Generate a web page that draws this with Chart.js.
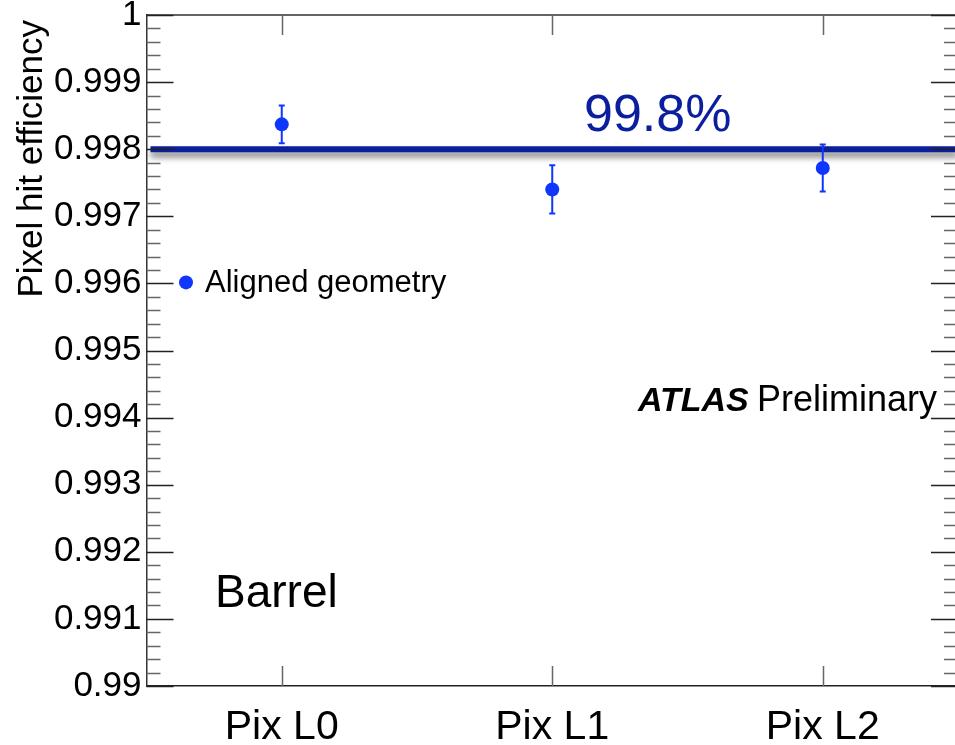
<!DOCTYPE html>
<html>
<head>
<meta charset="utf-8">
<script src="https://cdn.jsdelivr.net/npm/chart.js@4.4.1/dist/chart.umd.min.js"></script>
<style>
  html, body { margin: 0; padding: 0; background: #fff; overflow: hidden; }
  #wrap { width: 965px; height: 745px; }
</style>
</head>
<body>
<div id="wrap"><canvas id="grafico" width="965" height="745"></canvas></div>
<script>
// datos
const capas = ['Pix L0', 'Pix L1', 'Pix L2'];
const eficiencia = [0.99837, 0.99740, 0.99772];
const errores = [0.00028, 0.00036, 0.00035];
const promedio = 0.998;
const ticksY = [0.99, 0.991, 0.992, 0.993, 0.994, 0.995, 0.996, 0.997, 0.998, 0.999, 1];
const etiquetasY = ['0.99', '0.991', '0.992', '0.993', '0.994', '0.995', '0.996', '0.997', '0.998', '0.999', '1'];

const AZUL = '#0f36fb';
const AZUL_OSC = '#0b1e9e';
const FUENTE = '"Liberation Sans", Arial, sans-serif';

const pluginROOT = {
    id: 'estiloRoot',
    afterDatasetsDraw(chart) {
        const { ctx, chartArea: a, scales: { x, y } } = chart;
        ctx.save();

        // linea del promedio con sombra
        const yp = y.getPixelForValue(promedio);
        ctx.save();
        ctx.shadowColor = 'rgba(0,0,0,0.5)';
        ctx.shadowBlur = 6;
        ctx.shadowOffsetY = 5;
        ctx.strokeStyle = AZUL_OSC;
        ctx.lineWidth = 6;
        ctx.beginPath(); ctx.moveTo(a.left + 4, yp); ctx.lineTo(a.right, yp); ctx.stroke();
        ctx.restore();

        // barras de error
        ctx.strokeStyle = AZUL; ctx.lineWidth = 2;
        eficiencia.forEach((v, i) => {
            const px = x.getPixelForValue(i);
            const y1 = y.getPixelForValue(v + errores[i]);
            const y2 = y.getPixelForValue(v - errores[i]);
            ctx.beginPath();
            ctx.moveTo(px, y1); ctx.lineTo(px, y2);
            ctx.moveTo(px - 3, y1); ctx.lineTo(px + 3, y1);
            ctx.moveTo(px - 3, y2); ctx.lineTo(px + 3, y2);
            ctx.stroke();
        });
        ctx.restore();
    },
    afterDraw(chart) {
        const { ctx, chartArea: a, scales: { x, y } } = chart;
        ctx.save();
        // marco superior y derecho
        ctx.strokeStyle = '#333'; ctx.lineWidth = 1.5;
        ctx.beginPath();
        ctx.moveTo(a.left, a.top); ctx.lineTo(a.right, a.top); ctx.lineTo(a.right, a.bottom);
        ctx.stroke();

        // ticks menores y mayores en Y (ambos lados)
        ctx.lineWidth = 1.5;
        for (let i = 0; i <= 50; i++) {
            const v = 0.99 + i * 0.0002;
            const py = Math.round(y.getPixelForValue(v)) + 0.5;
            const largo = i % 5 === 0 ? 27 : 14;
            ctx.strokeStyle = i % 5 === 0 ? '#222' : '#666';
            ctx.beginPath();
            ctx.moveTo(a.left, py); ctx.lineTo(a.left + largo, py);
            ctx.moveTo(a.right, py); ctx.lineTo(a.right - largo, py);
            ctx.stroke();
        }
        // ticks en X
        ctx.strokeStyle = '#666';
        capas.forEach((c, i) => {
            const px = Math.round(x.getPixelForValue(i)) + 0.5;
            ctx.beginPath();
            ctx.moveTo(px, a.bottom); ctx.lineTo(px, a.bottom - 20);
            ctx.moveTo(px, a.top); ctx.lineTo(px, a.top + 20);
            ctx.stroke();
        });

        // titulo eje Y
        ctx.save();
        ctx.translate(42, 20);
        ctx.rotate(-Math.PI / 2);
        ctx.fillStyle = '#000';
        ctx.font = '35px ' + FUENTE;
        ctx.textAlign = 'right';
        ctx.textBaseline = 'alphabetic';
        ctx.fillText('Pixel hit efficiency', 0, 0);
        ctx.restore();

        // leyenda
        ctx.fillStyle = AZUL;
        ctx.beginPath(); ctx.arc(186, y.getPixelForValue(0.996) - 1, 7, 0, Math.PI * 2); ctx.fill();
        ctx.fillStyle = '#000';
        ctx.font = '31px ' + FUENTE;
        ctx.textAlign = 'left';
        ctx.fillText('Aligned geometry', 205, 292);

        // textos
        ctx.fillStyle = AZUL_OSC;
        ctx.font = '52px ' + FUENTE;
        ctx.fillText('99.8%', 584, 131);

        ctx.fillStyle = '#000';
        ctx.font = 'italic bold 34px ' + FUENTE;
        ctx.fillText('ATLAS', 638, 411);
        ctx.font = '36px ' + FUENTE;
        ctx.fillText('Preliminary', 757, 411);

        ctx.font = '46px ' + FUENTE;
        ctx.fillText('Barrel', 215, 607);
        ctx.restore();
    }
};

new Chart(document.getElementById('grafico'), {
    type: 'line',
    data: {
        labels: capas,
        datasets: [{
            data: eficiencia,
            showLine: false,
            pointRadius: 7,
            pointBackgroundColor: AZUL,
            pointBorderColor: AZUL,
            pointBorderWidth: 0
        }]
    },
    options: {
        responsive: false,
        animation: false,
        layout: { padding: { top: 15, right: 5.5, left: 0, bottom: 0 } },
        plugins: { legend: { display: false }, tooltip: { enabled: false } },
        scales: {
            x: {
                type: 'category',
                offset: true,
                grid: { display: false, drawTicks: false, offset: false },
                border: { display: true, color: '#222', width: 1.5 },
                ticks: { color: '#000', font: { family: FUENTE, size: 41 }, padding: 17, maxRotation: 0 },
                afterFit: s => { s.height = 59; s.paddingLeft = 0; s.paddingRight = 0; }
            },
            y: {
                min: 0.99, max: 1,
                grid: { display: false, drawTicks: false },
                border: { display: true, color: '#333', width: 1.5 },
                afterBuildTicks: s => { s.ticks = ticksY.map(v => ({ value: v })); },
                ticks: {
                    color: '#000', font: { family: FUENTE, size: 35 }, padding: 5,
                    callback: (v, i) => etiquetasY[i]
                },
                afterFit: s => { s.width = 146.5; s.paddingTop = 0; s.paddingBottom = 0; }
            }
        }
    },
    plugins: [pluginROOT]
});
</script>
</body>
</html>
